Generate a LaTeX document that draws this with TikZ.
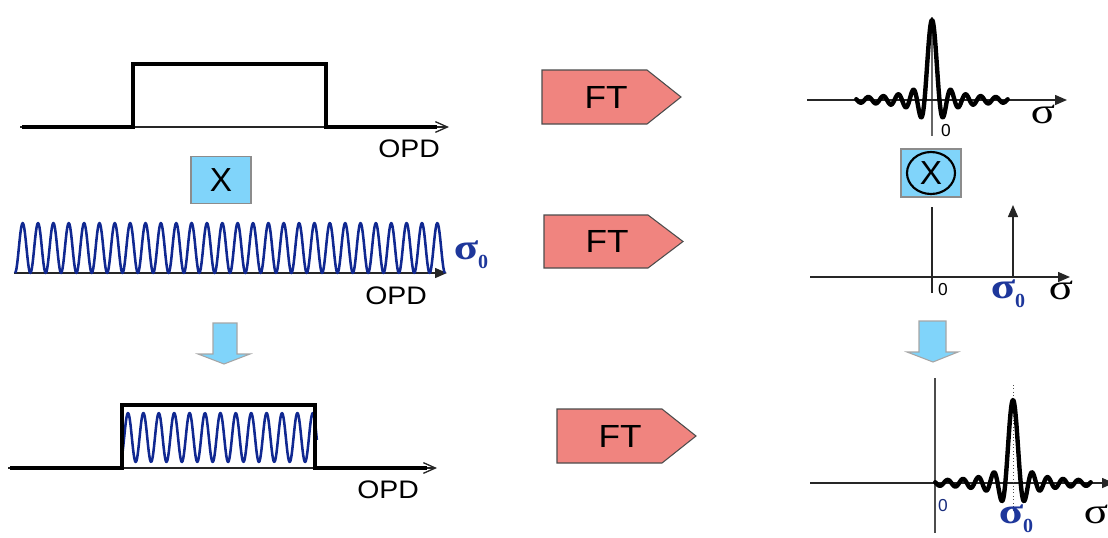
\documentclass[tikz,border=0pt]{standalone}
\usepackage{fontspec}
\setmainfont{Liberation Sans}
\newfontfamily\sigf{Liberation Serif}
\usetikzlibrary{arrows.meta}
\definecolor{ftred}{RGB}{240,132,127}
\definecolor{lblue}{RGB}{128,212,250}
\definecolor{wavec}{RGB}{16,40,145}
\definecolor{sblue}{RGB}{30,55,155}
\newcommand\sigzero{{\sigf\bfseries\color{sblue}\scalebox{1.25}[1]{σ}\raisebox{-0.25em}{\fontsize{15}{15}\selectfont 0}}}
\tikzset{
  thinaxis/.style={draw=black!85, line width=1.1pt},
  openhead/.style={-{Straight Barb[length=9pt,width=8pt,line width=1pt]}},
  fillhead/.style={-{Triangle[length=9pt,width=7.5pt]}},
  thickl/.style={line width=3pt, line join=miter, line cap=butt},
  wavel/.style={draw=wavec, line width=1.9pt, line join=round},
  sincl/.style={line width=3.3pt, line join=round, line cap=round},
  ftbox/.style={fill=ftred, draw=black!70, line width=0.8pt},
  bluebox/.style={fill=lblue, draw=black!45, line width=1pt},
  blockarrow/.style={fill=lblue, draw=black!35, line width=0.8pt},
  opdlbl/.style={font=\fontsize{19}{19}\selectfont, inner sep=0pt},
  ftlbl/.style={font=\fontsize{24}{24}\selectfont, inner sep=0pt},
  zerolbl/.style={font=\fontsize{13}{13}\selectfont, inner sep=0pt},
  siglbl/.style={font=\sigf\fontsize{27}{27}\selectfont, inner sep=0pt},
  sigzlbl/.style={font=\fontsize{27}{27}\selectfont, inner sep=0pt},
}
\begin{document}
\begin{tikzpicture}[x=0.75pt,y=-0.75pt]
\useasboundingbox (0,0) rectangle (1108,537);

% ---------- left column ----------
% rectangle function
\draw[thinaxis, openhead] (20,127) -- (449,127);
\draw[thickl] (22,127) -- (133,127) -- (133,64) -- (326,64) -- (326,127) -- (437,127);
\node[opdlbl] (opd1) at (409,149) {\scalebox{1.12}[1]{OPD}};

% multiply box
\node[bluebox, minimum width=45pt, minimum height=35pt] (xbox) at (221,180) {};
\node[font=\fontsize{25}{25}\selectfont, inner sep=0pt] (xlbl) at (xbox) {X};

% full cosine
\draw[thinaxis, fillhead] (14,273) -- (447,273);
\draw[wavel] plot[domain=0:28, samples=561] ({15+\x*430/28},{248+25*cos(360*\x)});
\node[sigzlbl] (s0a) at (471,255) {\sigzero};
\node[opdlbl] (opd2) at (396,296) {\scalebox{1.12}[1]{OPD}};

% down arrow left
\draw[blockarrow] (213,323) -- (237,323) -- (237,354) -- (250,354) -- (224,364) -- (198,354) -- (213,354) -- cycle;

% product
\draw[thinaxis, openhead] (8,468) -- (437,468);
\draw[wavel] plot[domain=-0.39:12.27, samples=300] ({128+15.4*\x},{437.5-24.5*cos(360*\x)});
\draw[thickl] (10,468) -- (122,468) -- (122,405) -- (315,405) -- (315,468) -- (427,468);
\node[opdlbl] (opd3) at (388,490) {\scalebox{1.12}[1]{OPD}};

% ---------- FT arrows ----------
\draw[ftbox] (542,70) -- (647,70) -- (681,97) -- (647,124) -- (542,124) -- cycle;
\node[ftlbl] (ft1) at (606,97) {\scalebox{1.1}[1]{FT}};
\draw[ftbox] (544,215) -- (648,215) -- (683,241.5) -- (648,268) -- (544,268) -- cycle;
\node[ftlbl] (ft2) at (607,241.5) {\scalebox{1.1}[1]{FT}};
\draw[ftbox] (557,409) -- (662,409) -- (696,436) -- (662,463) -- (557,463) -- cycle;
\node[ftlbl] (ft3) at (620,436) {\scalebox{1.1}[1]{FT}};

% ---------- right column ----------
% sinc
\draw[thinaxis, draw=black!60] (932,17) -- (932,136);
\draw[thinaxis, fillhead] (807,100) -- (1067,100);
\draw[sincl] plot[domain=-10.1:10.1, samples=400] ({932+7.5*\x},{100-80*sin(180*\x)/(pi*\x)});
\node[zerolbl] (z1) at (946,131) {0};
\node[siglbl] (sg1) at (1043,114) {\scalebox{1.25}[1]{σ}};

% convolution box
\node[bluebox, minimum width=45pt, minimum height=36pt] (cbox) at (931,173) {};
\draw[line width=1.6pt] (cbox.center) ellipse [x radius=24, y radius=21];
\node[font=\fontsize{25}{25}\selectfont, inner sep=0pt] (clbl) at (cbox) {X};

% delta
\draw[thinaxis] (932,207) -- (932,293);
\draw[thinaxis, fillhead] (810,277) -- (1070,277);
\coordinate (dbase) at (1013,277);
\coordinate (dtop) at (1013,205);
\draw[thinaxis, fillhead] (dbase) -- (dtop);
\node[zerolbl] (z2) at (943,290) {0};
\node[sigzlbl] (s0b) at (1008,294) {\sigzero};
\node[siglbl] (sg2) at (1061,290) {\scalebox{1.25}[1]{σ}};

% down arrow right
\draw[blockarrow] (919,321) -- (946,321) -- (946,352) -- (958,352) -- (933,362) -- (907,352) -- (919,352) -- cycle;

% shifted sinc
\draw[thinaxis, draw=black!70] (935,378) -- (935,533);
\draw[thinaxis, fillhead] (810,483) -- (1114,483);
\draw[black!70, line width=0.6pt, dotted] (1013,385) -- (1013,513);
\draw[sincl] plot[domain=-10.1:10.1, samples=400] ({1013+7.7*\x},{483-83*sin(180*\x)/(pi*\x)});
\node[zerolbl, text=sblue!80!black] (z3) at (943,506) {0};
\node[sigzlbl] (s0c) at (1016,519) {\sigzero};
\node[siglbl] (sg3) at (1096,514) {\scalebox{1.25}[1]{σ}};
\end{tikzpicture}
\end{document}
